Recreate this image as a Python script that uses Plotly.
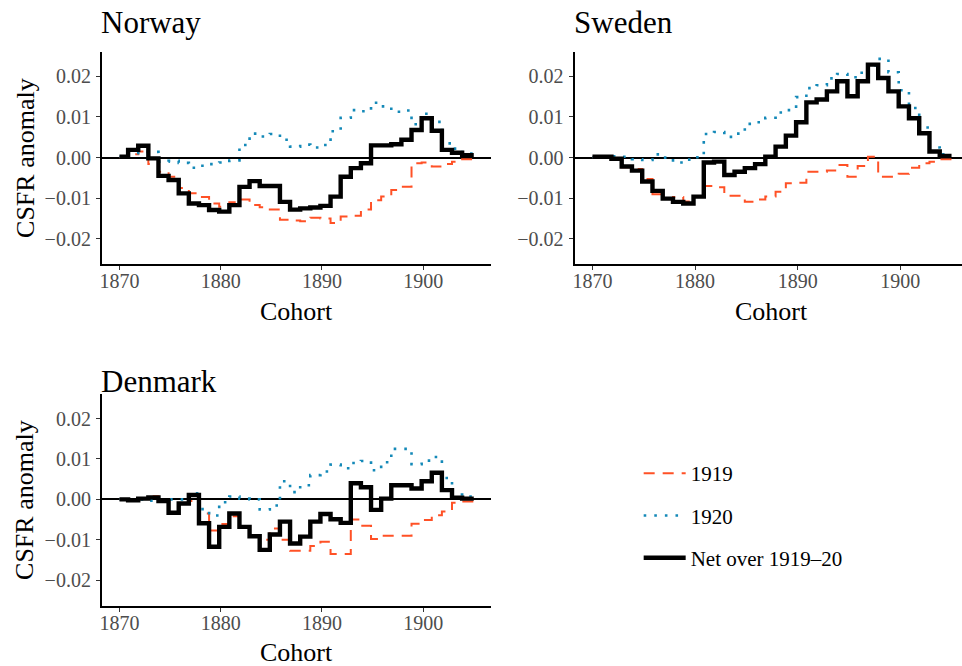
import plotly.graph_objects as go

# ---------------- data ----------------
# step positions (cohort); each value holds from its position to the next
cohort = [1870.0, 1870.85, 1871.85, 1872.85, 1873.85, 1874.85, 1875.85, 1876.85,
          1877.85, 1878.85, 1879.85, 1880.85, 1881.85, 1882.85, 1883.85, 1884.85,
          1885.85, 1886.85, 1887.85, 1888.85, 1889.85, 1890.85, 1891.85, 1892.85,
          1893.85, 1894.85, 1895.85, 1896.85, 1897.85, 1898.85, 1899.85, 1900.85,
          1901.85, 1902.85, 1903.85]
cohort_end = 1905.0

norway_1919 = [0.0000, 0.0008, 0.0015, -0.0016, -0.0035, -0.0047, -0.0075, -0.0088,
               -0.0097, -0.0113, -0.0121, -0.0110, -0.0103, -0.0117, -0.0122, -0.0128,
               -0.0153, -0.0155, -0.0157, -0.0148, -0.0150, -0.0161, -0.0145, -0.0143,
               -0.0128, -0.0105, -0.0096, -0.0080, -0.0072, -0.0014, -0.0012, -0.0022,
               -0.0016, -0.0010, -0.0004]
norway_1920 = [0.0002, 0.0011, 0.0014, 0.0014, -0.0010, -0.0008, -0.0013, -0.0025,
               -0.0020, -0.0016, -0.0012, -0.0007, 0.0031, 0.0059, 0.0052, 0.0058,
               0.0044, 0.0027, 0.0032, 0.0025, 0.0031, 0.0065, 0.0098, 0.0117,
               0.0114, 0.0135, 0.0126, 0.0113, 0.0116, 0.0082, 0.0108, 0.0088,
               0.0035, 0.0022, 0.0010]
norway_net = [0.0002, 0.0019, 0.0029, -0.0002, -0.0045, -0.0055, -0.0088, -0.0113,
              -0.0117, -0.0129, -0.0133, -0.0117, -0.0072, -0.0058, -0.0070, -0.0070,
              -0.0109, -0.0128, -0.0125, -0.0123, -0.0119, -0.0096, -0.0047, -0.0026,
              -0.0014, 0.0030, 0.0030, 0.0033, 0.0044, 0.0068, 0.0097, 0.0066,
              0.0019, 0.0012, 0.0006]

sweden_1919 = [0.0001, 0.0001, -0.0006, -0.0024, -0.0028, -0.0053, -0.0090, -0.0100,
               -0.0097, -0.0108, -0.0097, -0.0070, -0.0073, -0.0094, -0.0094, -0.0109,
               -0.0103, -0.0096, -0.0084, -0.0063, -0.0062, -0.0035, -0.0035, -0.0032,
               -0.0018, -0.0047, -0.0021, 0.0002, -0.0047, -0.0047, -0.0040, -0.0025,
               -0.0014, -0.0010, -0.0004]
sweden_1920 = [0.0001, 0.0001, 0.0003, 0.0002, -0.0004, -0.0006, 0.0008, 0.0000,
               -0.0012, -0.0005, 0.0001, 0.0058, 0.0063, 0.0051, 0.0059, 0.0083,
               0.0087, 0.0098, 0.0111, 0.0117, 0.0149, 0.0171, 0.0178, 0.0195,
               0.0206, 0.0198, 0.0209, 0.0227, 0.0243, 0.0210, 0.0166, 0.0122,
               0.0074, 0.0025, 0.0008]
sweden_net = [0.0002, 0.0002, -0.0003, -0.0022, -0.0032, -0.0059, -0.0082, -0.0101,
              -0.0109, -0.0113, -0.0096, -0.0012, -0.0010, -0.0043, -0.0035, -0.0026,
              -0.0016, 0.0002, 0.0027, 0.0054, 0.0087, 0.0136, 0.0143, 0.0163,
              0.0188, 0.0151, 0.0188, 0.0229, 0.0196, 0.0163, 0.0126, 0.0097,
              0.0060, 0.0015, 0.0004]

denmark_1919 = [0.0000, -0.0002, 0.0002, 0.0008, -0.0002, -0.0033, -0.0010, -0.0004,
                -0.0035, -0.0077, -0.0061, -0.0042, -0.0070, -0.0091, -0.0100, -0.0072,
                -0.0100, -0.0127, -0.0127, -0.0115, -0.0105, -0.0135, -0.0135, -0.0050,
                -0.0065, -0.0098, -0.0090, -0.0090, -0.0090, -0.0060, -0.0051, -0.0039,
                -0.0030, -0.0008, -0.0005]
denmark_1920 = [0.0000, 0.0000, 0.0000, -0.0003, -0.0002, 0.0000, 0.0000, 0.0015,
                -0.0024, -0.0040, -0.0007, 0.0007, 0.0002, 0.0000, -0.0025, -0.0015,
                0.0045, 0.0018, 0.0035, 0.0060, 0.0069, 0.0086, 0.0077, 0.0090,
                0.0095, 0.0072, 0.0092, 0.0125, 0.0125, 0.0087, 0.0096, 0.0105,
                0.0053, 0.0012, 0.0007]
denmark_net = [0.0000, -0.0002, 0.0002, 0.0005, -0.0004, -0.0033, -0.0010, 0.0011,
               -0.0059, -0.0117, -0.0068, -0.0035, -0.0068, -0.0091, -0.0125, -0.0087,
               -0.0055, -0.0109, -0.0092, -0.0055, -0.0036, -0.0049, -0.0058, 0.0040,
               0.0030, -0.0026, 0.0002, 0.0035, 0.0035, 0.0027, 0.0045, 0.0066,
               0.0023, 0.0004, 0.0002]

countries = ["Norway", "Sweden", "Denmark"]
series_names = ["1919", "1920", "Net over 1919\u201320"]
x_ticks = [1870, 1880, 1890, 1900]
y_ticks = [-0.02, -0.01, 0.00, 0.01, 0.02]

# ---------------- styling ----------------
W, H = 962, 666
FONT = "Liberation Serif"
RED = "#FF5126"
BLUE = "#1489B8"
BLACK = "#000000"

styles = [
    dict(color=RED, width=2.0, dash="11px,8px"),
    dict(color=BLUE, width=2.6, dash="2.6px,8px"),
    dict(color=BLACK, width=4.4, dash="solid"),
]

data = {
    "Norway": [norway_1919, norway_1920, norway_net],
    "Sweden": [sweden_1919, sweden_1920, sweden_net],
    "Denmark": [denmark_1919, denmark_1920, denmark_net],
}

def px_x(p):
    return p / W

def px_y(p):
    return 1 - p / H

# panel geometry in pixels: (left, right, top, bottom), ranges, title centre y, x-title centre
panels = {
    "Norway": dict(l=100, r=490, t=52, b=264, xr=[1868.25, 1906.7], yr=[-0.0262, 0.0260],
                   ty=22, cx=295),
    "Sweden": dict(l=573.7, r=962, t=52, b=264, xr=[1868.25, 1906.02], yr=[-0.0262, 0.0260],
                   ty=22, cx=771),
    "Denmark": dict(l=100, r=490, t=394.3, b=605.7, xr=[1868.25, 1906.7], yr=[-0.0263, 0.0260],
                    ty=381, cx=295),
}

fig = go.Figure()
layout = dict()

for i, c in enumerate(countries):
    ax = "" if i == 0 else str(i + 1)
    p = panels[c]
    for j, (vals, st) in enumerate(zip(data[c], styles)):
        fig.add_trace(go.Scatter(
            x=cohort + [cohort_end], y=vals + [vals[-1]],
            mode="lines", line=dict(shape="hv", **st),
            name=series_names[j], legendgroup=series_names[j],
            showlegend=(i == 0),
            xaxis="x" + ax, yaxis="y" + ax,
            hoverinfo="skip",
        ))
    layout["xaxis" + ax] = dict(
        domain=[px_x(p["l"]), px_x(p["r"])], range=p["xr"], anchor="y" + ax,
        tickvals=x_ticks, ticks="outside", ticklen=4, tickwidth=1.3, tickcolor="#333333",
        showline=True, linecolor="black", linewidth=1.8, showgrid=False, zeroline=False,
        ticklabelstandoff=-6,
        tickfont=dict(family=FONT, size=20, color="#4D4D4D"),
    )
    layout["yaxis" + ax] = dict(
        domain=[px_y(p["b"]), px_y(p["t"])], range=p["yr"], anchor="x" + ax,
        tickvals=y_ticks, tickformat=".2f", ticks="outside", ticklen=4, tickwidth=1.3,
        tickcolor="#333333", showline=True, linecolor="black", linewidth=1.8,
        showgrid=False, zeroline=True, zerolinecolor="black", zerolinewidth=1.6,
        ticklabelstandoff=1,
        tickfont=dict(family=FONT, size=20, color="#4D4D4D"),
    )

annotations = []
for c in countries:
    p = panels[c]
    annotations.append(dict(text=c, x=px_x(p["l"] - 3), y=px_y(p["ty"]), xref="paper", yref="paper",
                            xanchor="left", yanchor="middle", showarrow=False,
                            font=dict(family=FONT, size=31, color="black")))
    annotations.append(dict(text="Cohort", x=px_x(p["cx"]),
                            y=px_y(p["b"] + 47), xref="paper", yref="paper",
                            xanchor="center", yanchor="middle", showarrow=False,
                            font=dict(family=FONT, size=26, color="black")))
    if c != "Sweden":
        annotations.append(dict(text="CSFR anomaly", x=px_x(23), y=px_y((p["t"] + p["b"]) / 2),
                                xref="paper", yref="paper", textangle=-90,
                                xanchor="center", yanchor="middle", showarrow=False,
                                font=dict(family=FONT, size=26, color="black")))

fig.update_layout(
    width=W, height=H,
    margin=dict(l=0, r=0, t=0, b=0),
    paper_bgcolor="white", plot_bgcolor="white",
    annotations=annotations,
    legend=dict(x=px_x(638), y=px_y(453), xanchor="left", yanchor="top",
                font=dict(family=FONT, size=21, color="black"),
                itemwidth=42, tracegroupgap=12, bgcolor="rgba(0,0,0,0)"),
    **layout,
)

fig.write_html("out.html")
